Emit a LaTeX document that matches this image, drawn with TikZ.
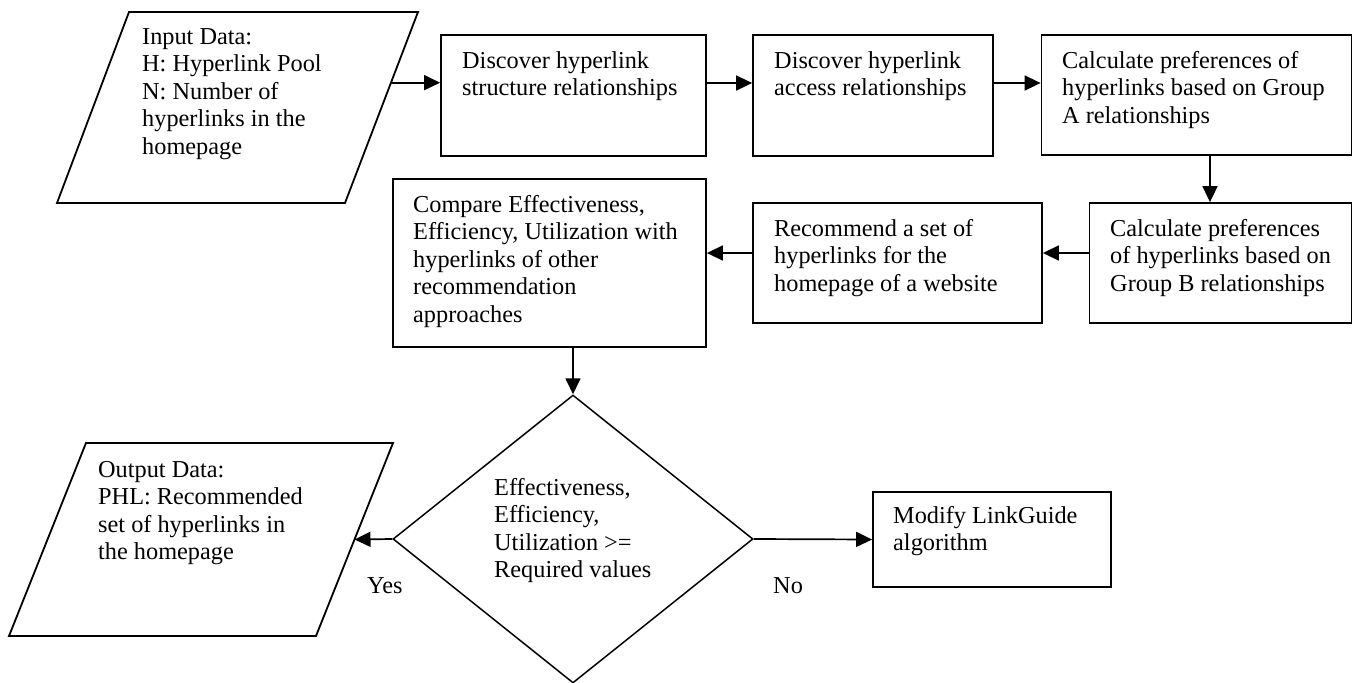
\documentclass[tikz,border=0pt]{standalone}
\usepackage{fontspec}
\setmainfont{Liberation Serif}
\usetikzlibrary{arrows.meta,shapes.geometric,calc}
\newcommand{\tblock}[1]{\parbox[t]{12cm}{\raggedright #1}}
\begin{document}
\begin{tikzpicture}[x=1pt,y=-1pt,
  box/.style={draw, line width=1.8pt, rectangle, inner sep=0pt},
  para/.style={draw, line width=1.8pt, line join=miter},
  dec/.style={draw, line width=1.5pt, diamond, inner sep=0pt},
  txt/.style={anchor=base west, inner sep=0pt, font=\fontsize{24.3}{27.6}\selectfont},
  arr/.style={line width=1.7pt, -{Triangle[length=16pt,width=15pt]}},
]
\useasboundingbox (0,0) rectangle (1353,683);

% shapes
\coordinate (inTL) at (129,12);
\coordinate (inTR) at (418,12);
\coordinate (inBR) at (345,203);
\coordinate (inBL) at (57,203);
\draw[para] (inTL) -- (inTR) -- (inBR) -- (inBL) -- cycle;
\coordinate (inR) at ($(inTR)!0.37!(inBR)$);

\node[box, minimum width=265pt, minimum height=121pt] (b1) at (573.5,95.5) {};
\node[box, minimum width=240pt, minimum height=121pt] (b2) at (873,95.5) {};
\node[box, minimum width=310pt, minimum height=120pt] (b3) at (1196.5,95) {};
\node[box, minimum width=262pt, minimum height=120pt] (gB) at (1220.5,263) {};
\node[box, minimum width=289pt, minimum height=120pt] (rec) at (897.5,263) {};
\node[box, minimum width=313pt, minimum height=168pt] (cmp) at (549.5,263) {};
\node[dec, minimum width=360pt, minimum height=288pt] (dia) at (573,539) {};

\coordinate (outTL) at (86,443);
\coordinate (outTR) at (393,443);
\coordinate (outBR) at (316,636);
\coordinate (outBL) at (9,636);
\draw[para] (outTL) -- (outTR) -- (outBR) -- (outBL) -- cycle;
\coordinate (outR) at ($(outTR)!0.5!(outBR)$);

\node[box, minimum width=238pt, minimum height=95pt] (mod) at (992,539.5) {};

% texts
\node[txt] (tin) at (142,44) {\tblock{Input Data:\\H: Hyperlink Pool\\N: Number of\\hyperlinks in the\\homepage}};
\node[txt] (tb1) at (462,68) {\tblock{Discover hyperlink\\structure relationships}};
\node[txt] (tb2) at (774,68) {\tblock{Discover hyperlink\\access relationships}};
\node[txt] (tb3) at (1062,68) {\tblock{Calculate preferences of\\hyperlinks based on Group\\A relationships}};
\node[txt] (tgB) at (1110,236) {\tblock{Calculate preferences\\of hyperlinks based on\\Group B relationships}};
\node[txt] (trec) at (774,236) {\tblock{Recommend a set of\\hyperlinks for the\\homepage of a website}};
\node[txt] (tcmp) at (413,212) {\tblock{Compare Effectiveness,\\Efficiency, Utilization with\\hyperlinks of other\\recommendation\\approaches}};
\node[txt] (tdia) at (494,495) {\tblock{Effectiveness,\\Efficiency,\\Utilization >=\\Required values}};
\node[txt] (tout) at (98,477) {\tblock{Output Data:\\PHL: Recommended\\set of hyperlinks in\\the homepage}};
\node[txt] (tmod) at (893,523) {\tblock{Modify LinkGuide\\algorithm}};
\node[txt] (yes) at (367,593) {Yes};
\node[txt] (no) at (773,593) {No};

% connectors
\coordinate (y1) at (0,83);
\coordinate (y2) at (0,253);
\coordinate (x3) at (1210,0);
\draw[arr] (inR) -- (b1.west |- inR);
\draw[arr] (b1.east |- y1) -- (b2.west |- y1);
\draw[arr] (b2.east |- y1) -- (b3.west |- y1);
\draw[arr] (b3.south -| x3) -- (gB.north -| x3);
\draw[arr] (gB.west |- y2) -- (rec.east |- y2);
\draw[arr] (rec.west |- y2) -- (cmp.east |- y2);
\draw[arr] (cmp.south -| dia.north) -- (dia.north);
\draw[arr] (dia.west) -- (outR);
\draw[arr] (dia.east) -- (mod.west);
\end{tikzpicture}
\end{document}
